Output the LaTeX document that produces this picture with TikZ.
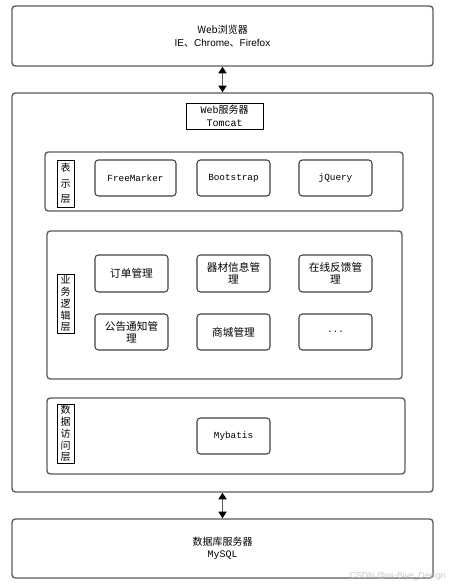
\documentclass[tikz,border=0pt]{standalone}
\usepackage{fontspec}
\setmainfont{Noto Sans CJK SC}
\newfontfamily\lsans{Liberation Sans}
\newfontfamily\mono{Liberation Mono}
\usetikzlibrary{arrows.meta}
\definecolor{lg}{HTML}{5A5A5A}
\begin{document}
\begin{tikzpicture}[x=0.75pt,y=-0.75pt,
  pb/.style n args={4}{minimum width={(#3-#1)*0.75pt}, minimum height={(#4-#2)*0.75pt}, at={({(#1+#3)/2},{(#2+#4)/2})}},
  box/.style={draw=lg, line width=1pt, rounded corners=2.5pt, inner sep=0pt, align=center, font=\fontsize{7.5}{9.5}\selectfont},
  inbox/.style={box, draw=black!75, line width=0.8pt, font=\fontsize{8}{9}\selectfont},
  sqbox/.style={draw=black, line width=0.7pt, inner sep=0pt, align=center, fill=white},
  arr/.style={draw=lg, line width=1.3pt, {Triangle[length=5pt,width=6pt,color=black]}-{Triangle[length=5pt,width=6pt,color=black]}}]
\useasboundingbox (0,0) rectangle (449,588);

\node[box, pb={12}{6}{433}{66}, font=\fontsize{7.5}{9.75}\selectfont] (browser) {Web浏览器\\{\lsans IE}、{\lsans Chrome}、{\lsans Firefox}};
\node[box, pb={12}{93}{433}{492}] (server) {};
\node[sqbox, pb={186}{103}{263}{129}, font=\fontsize{7.5}{9.5}\selectfont] (tomcat) {{\mono Web}服务器\\{\mono Tomcat}};

\node[box, pb={45}{152}{403}{211}] (pres) {};
\node[sqbox, pb={57}{160}{74}{207}, font=\fontsize{7.5}{11.5}\selectfont] (preslab) {表\\示\\层};
\node[inbox, pb={95}{160}{176}{196}, font=\fontsize{7}{8}\mono] (fm) {FreeMarker};
\node[inbox, pb={197}{160}{270}{196}, font=\fontsize{7}{8}\mono] (bs) {Bootstrap};
\node[inbox, pb={299}{160}{372}{196}, font=\fontsize{7}{8}\mono] (jq) {jQuery};

\node[box, pb={47}{231}{402}{379}] (biz) {};
\node[sqbox, pb={57}{274}{74}{333}, font=\fontsize{7.5}{8.9}\selectfont] (bizlab) {业\\务\\逻\\辑\\层};
\node[inbox, pb={95}{255}{168}{292}] (order) {订单管理};
\node[inbox, pb={197}{255}{270}{292}] (equip) {器材信息管\\理};
\node[inbox, pb={299}{255}{372}{292}] (feed) {在线反馈管\\理};
\node[inbox, pb={95}{314}{168}{350}] (notice) {公告通知管\\理};
\node[inbox, pb={197}{314}{270}{350}] (mall) {商城管理};
\node[inbox, pb={299}{314}{372}{350}, font=\fontsize{7}{8}\mono] (more) {...};

\node[box, pb={47}{398}{405}{474}] (data) {};
\node[sqbox, pb={57}{404}{74}{463}, font=\fontsize{7.5}{8.9}\selectfont] (datalab) {数\\据\\访\\问\\层};
\node[inbox, pb={197}{418}{270}{454}, font=\fontsize{7}{8}\mono] (mybatis) {Mybatis};

\node[box, pb={12}{519}{433}{578}, font=\fontsize{7.5}{9}\selectfont] (db) {数据库服务器\\{\mono MySQL}};

\draw[arr] (browser.south) -- (server.north);
\draw[arr] (server.south) -- (db.north);

\node[text=black!22, font=\fontsize{6.5}{7}\selectfont\lsans, anchor=east, inner sep=0pt] (wm) at (446,576) {CSDN @vx-Biye\_Design};
\end{tikzpicture}
\end{document}
